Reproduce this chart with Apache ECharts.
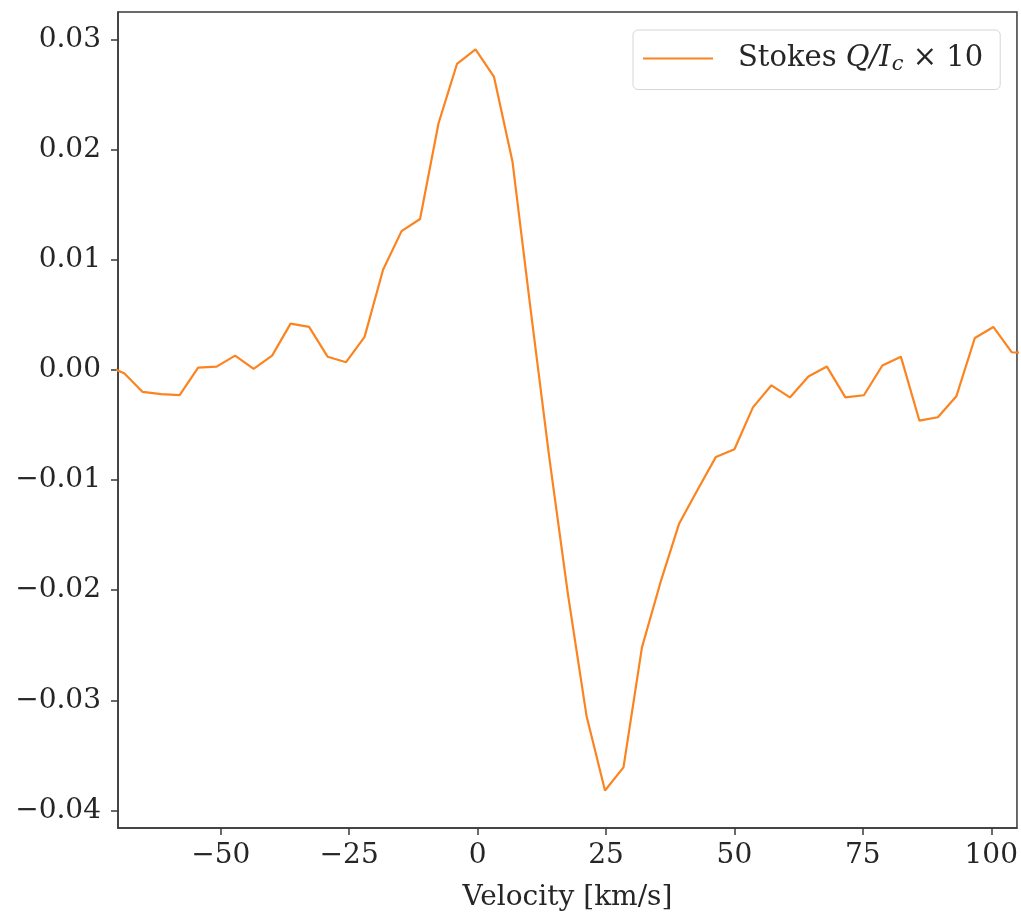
<!DOCTYPE html>
<html>
<head>
<meta charset="utf-8">
<style>
  html, body { margin: 0; padding: 0; background: #ffffff; }
  #chart { width: 1021px; height: 919px; }
</style>
<script src="https://cdn.jsdelivr.net/npm/echarts@6/dist/echarts.min.js"></script>
</head>
<body>
<div id="chart"></div>
<script>
// Velocity grid of the profile [km/s]
const velocity = [
  -72.4, -68.8, -65.2, -61.6, -58.0, -54.4, -50.8, -47.2, -43.6, -40.0,
  -36.4, -32.8, -29.2, -25.6, -22.0, -18.4, -14.8, -11.2, -7.6, -4.0,
  -0.4, 3.2, 6.8, 10.4, 14.0, 17.6, 21.2, 24.8, 28.4, 32.0,
  35.6, 39.2, 42.8, 46.4, 50.0, 53.6, 57.2, 60.8, 64.4, 68.0,
  71.6, 75.2, 78.8, 82.4, 86.0, 89.6, 93.2, 96.8, 100.4, 104.0, 107.6
];

// Stokes Q / I_c (scaled by 10)
const stokesQ = [
  0.0004, -0.0003, -0.0020, -0.0022, -0.0023, 0.0002, 0.0003, 0.0013, 0.0001, 0.0013,
  0.0042, 0.0039, 0.0012, 0.0007, 0.0030, 0.0091, 0.0126, 0.0137, 0.0224, 0.0278,
  0.0291, 0.0266, 0.0189, 0.0052, -0.0081, -0.0204, -0.0314, -0.0382, -0.0361, -0.0252,
  -0.0193, -0.0140, -0.0109, -0.0079, -0.0072, -0.0034, -0.0014, -0.0025, -0.0006, 0.0003,
  -0.0025, -0.0023, 0.0004, 0.0012, -0.0046, -0.0043, -0.0024, 0.0029, 0.0039, 0.0016, 0.0015
];

// Tick positions
const xTicks = [-50, -25, 0, 25, 50, 75, 100];
const yTicks = [-0.04, -0.03, -0.02, -0.01, 0.00, 0.01, 0.02, 0.03];

const FONT = '"DejaVu Serif", serif';
const TEXT = '#262626';
const FRAME = '#3a3a3a';
const LINE = '#fb8420';

function signed(v, digits) {
  const s = Math.abs(v).toFixed(digits);
  return (v < -1e-12 ? '\u2212' : '') + s;
}

const chart = echarts.init(document.getElementById('chart'), null, { renderer: 'canvas' });

chart.setOption({
  animation: false,
  backgroundColor: '#ffffff',
  grid: {
    left: 118, right: 4, top: 12, bottom: 91,
    show: true,
    borderColor: FRAME,
    borderWidth: 1.5,
    backgroundColor: 'transparent'
  },
  legend: {
    show: true,
    left: 633, top: 30,
    padding: [14, 17, 14, 10],
    borderColor: '#d6d6d6',
    borderWidth: 1,
    borderRadius: 5,
    icon: 'rect',
    itemWidth: 70,
    itemHeight: 2,
    itemGap: 0,
    itemStyle: { color: LINE },
    textStyle: {
      fontFamily: FONT, fontSize: 29, color: TEXT,
      padding: [0, 0, 0, 20],
      rich: {
        it: { fontFamily: FONT, fontSize: 29, fontStyle: 'italic', color: TEXT },
        sub: { fontFamily: FONT, fontSize: 21, fontStyle: 'italic', color: TEXT, padding: [13, 0, 0, 1] },
        rm: { fontFamily: FONT, fontSize: 29, color: TEXT }
      }
    },
    formatter: function () {
      return '{rm|Stokes }{it|Q/I}{sub|c}{rm| \u00d7 10}';
    },
    data: [{ name: 'stokesQ' }]
  },
  xAxis: {
    type: 'value',
    min: -70, max: 105,
    axisLine: { show: true, onZero: false, lineStyle: { color: FRAME, width: 1.5 } },
    splitLine: { show: false },
    axisTick: {
      show: true, inside: false, length: 7,
      lineStyle: { color: FRAME, width: 1.5 },
      customValues: xTicks
    },
    axisLabel: {
      show: true, margin: 14,
      fontFamily: FONT, fontSize: 28, color: TEXT,
      customValues: xTicks,
      formatter: function (v) { return signed(v, 0); }
    },
    name: 'Velocity [km/s]',
    nameLocation: 'middle',
    nameGap: 56,
    nameTextStyle: { fontFamily: FONT, fontSize: 28, color: TEXT }
  },
  yAxis: {
    type: 'value',
    min: -0.0416, max: 0.0325,
    axisLine: { show: true, onZero: false, lineStyle: { color: FRAME, width: 1.5 } },
    splitLine: { show: false },
    axisTick: {
      show: true, inside: false, length: 7,
      lineStyle: { color: FRAME, width: 1.5 },
      customValues: yTicks
    },
    axisLabel: {
      show: true, margin: 17,
      fontFamily: FONT, fontSize: 28, color: TEXT,
      customValues: yTicks,
      formatter: function (v) { return signed(v, 2); }
    }
  },
  series: [{
    name: 'stokesQ',
    type: 'line',
    data: velocity.map((v, i) => [v, stokesQ[i]]),
    symbol: 'none',
    clip: true,
    lineStyle: { color: LINE, width: 2.2 },
    itemStyle: { color: LINE }
  }]
});
</script>
</body>
</html>
